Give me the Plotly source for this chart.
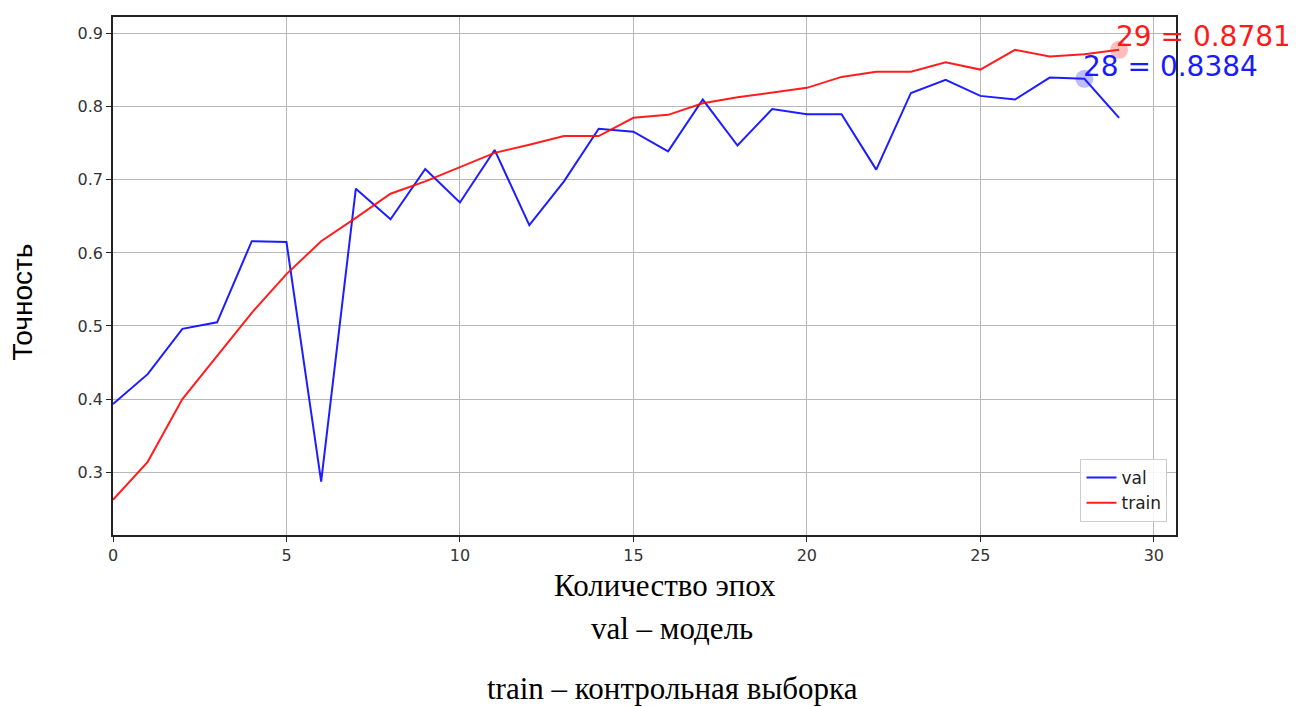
import plotly.graph_objects as go

epochs = list(range(30))
val_acc = [0.393, 0.434, 0.496, 0.505, 0.616, 0.615, 0.287, 0.688, 0.646, 0.715,
           0.669, 0.741, 0.638, 0.698, 0.770, 0.766, 0.739, 0.810, 0.747, 0.797,
           0.790, 0.790, 0.714, 0.819, 0.837, 0.815, 0.810, 0.840, 0.8384, 0.785]
train_acc = [0.262, 0.314, 0.400, 0.459, 0.518, 0.571, 0.616, 0.648, 0.681, 0.698,
             0.718, 0.737, 0.748, 0.760, 0.760, 0.785, 0.789, 0.805, 0.813, 0.819,
             0.826, 0.841, 0.848, 0.848, 0.861, 0.851, 0.878, 0.869, 0.872, 0.8781]
best_val_epoch, best_val = 28, 0.8384
best_train_epoch, best_train = 29, 0.8781
x_ticks = [0, 5, 10, 15, 20, 25, 30]
y_ticks = [0.3, 0.4, 0.5, 0.6, 0.7, 0.8, 0.9]

fig = go.Figure()
fig.add_trace(go.Scatter(x=epochs, y=val_acc, mode="lines", name="val",
                         line=dict(color="rgba(10,10,255,0.92)", width=2)))
fig.add_trace(go.Scatter(x=epochs, y=train_acc, mode="lines", name="train",
                         line=dict(color="rgba(255,10,10,0.92)", width=2)))
fig.add_trace(go.Scatter(x=[best_val_epoch], y=[best_val], mode="markers", showlegend=False,
                         marker=dict(color="rgba(40,40,255,0.3)", size=18)))
fig.add_trace(go.Scatter(x=[best_train_epoch], y=[best_train], mode="markers", showlegend=False,
                         marker=dict(color="rgba(255,40,40,0.3)", size=18)))

fig.add_annotation(x=best_train_epoch, y=best_train, xref="x", yref="y",
                   text=f"{best_train_epoch} = {best_train:.4f}", showarrow=False,
                   xanchor="left", yanchor="middle", xshift=-5, yshift=13,
                   font=dict(family="DejaVu Sans", size=28, color="#ff1a1a"))
fig.add_annotation(x=best_val_epoch, y=best_val, xref="x", yref="y",
                   text=f"{best_val_epoch} = {best_val:.4f}", showarrow=False,
                   xanchor="left", yanchor="middle", xshift=-3, yshift=12,
                   font=dict(family="DejaVu Sans", size=28, color="#1a1aff"))

fig.add_annotation(x=-0.085, y=0.45, xref="paper", yref="paper", text="Точность",
                   showarrow=False, textangle=-90, xanchor="center", yanchor="middle",
                   font=dict(family="Liberation Sans", size=28, color="#000"))
fig.add_annotation(x=0.519, y=-0.097, xref="paper", yref="paper", text="Количество эпох",
                   showarrow=False, xanchor="center", yanchor="middle",
                   font=dict(family="Liberation Serif", size=31, color="#000"))
fig.add_annotation(x=0.526, y=-0.18, xref="paper", yref="paper", text="val – модель",
                   showarrow=False, xanchor="center", yanchor="middle",
                   font=dict(family="Liberation Serif", size=31, color="#000"))
fig.add_annotation(x=0.526, y=-0.297, xref="paper", yref="paper", text="train – контрольная выборка",
                   showarrow=False, xanchor="center", yanchor="middle",
                   font=dict(family="Liberation Serif", size=31, color="#000"))

axis_common = dict(showline=True, linecolor="#222", linewidth=1.5, mirror=True,
                   ticks="outside", ticklen=5, tickcolor="#222", showgrid=True,
                   gridcolor="#b8b8b8", gridwidth=1.2, zeroline=False,
                   tickfont=dict(family="DejaVu Sans", size=16, color="#333"))
fig.update_xaxes(range=[0, 30.64], tickvals=x_ticks, **axis_common)
fig.update_yaxes(range=[0.2138, 0.923], tickvals=y_ticks, tickformat=".1f", **axis_common)

fig.update_layout(
    width=1288, height=699,
    margin=dict(l=105, r=120, t=7, b=172),
    plot_bgcolor="white", paper_bgcolor="white",
    legend=dict(x=0.992, y=0.025, xanchor="right", yanchor="bottom",
                bgcolor="rgba(255,255,255,0.85)", bordercolor="#cccccc", borderwidth=1,
                font=dict(family="DejaVu Sans", size=17, color="#222")),
    showlegend=True,
)

fig.write_html("out.html")
